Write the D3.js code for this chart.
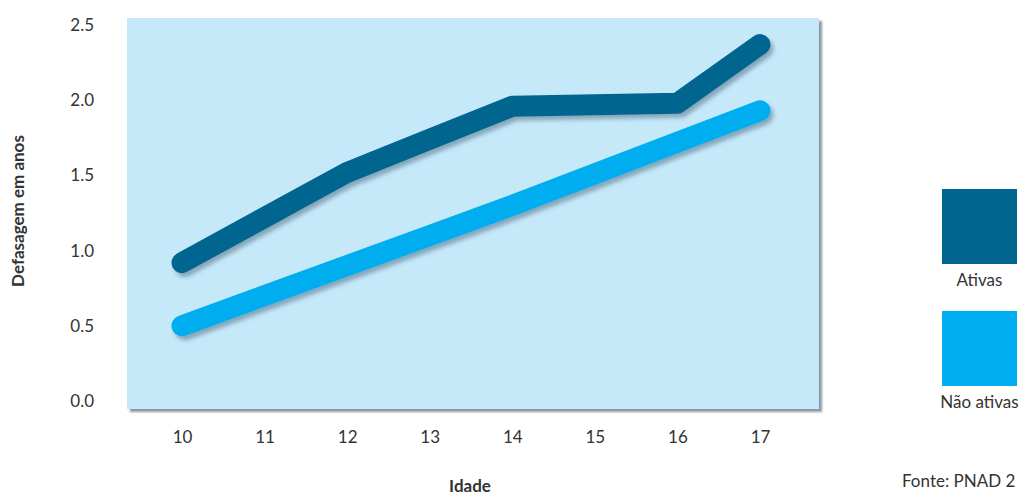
<!DOCTYPE html>
<html>
<head>
<meta charset="utf-8">
<script src="https://cdn.jsdelivr.net/npm/d3@7"></script>
<style>
  html, body { margin: 0; padding: 0; background: #ffffff; }
  svg { display: block; }
  text { font-family: Lato, "Open Sans", sans-serif; fill: #333; }
</style>
</head>
<body>
<svg id="chart" width="1021" height="496"></svg>
<script>
// Idade (anos) e defasagem escolar média em anos
const ages = [10, 11, 12, 13, 14, 15, 16, 17];
const ativas = [0.92, 1.22, 1.52, 1.74, 1.96, 1.97, 1.98, 2.37];
const naoAtivas = [0.5, 0.7, 0.9, 1.1, 1.3, 1.51, 1.72, 1.93];
const yTicks = [0.0, 0.5, 1.0, 1.5, 2.0, 2.5];
const seriesNames = ["Ativas", "Não ativas"];
const seriesColors = ["#00668f", "#00aeef"];

const FONT = 'Lato, "Open Sans", sans-serif';
const svg = d3.select("#chart");

const panel = { left: 127, top: 18, right: 819, bottom: 409 };

const x = d3.scaleLinear().domain([10, 17]).range([182, 760]);
const y = d3.scaleLinear().domain([0, 2.5]).range([401, 25]);

const defs = svg.append("defs");
const shadow = defs.append("filter").attr("id", "lineShadow")
  .attr("x", "-10%").attr("y", "-20%").attr("width", "130%").attr("height", "150%");
shadow.append("feDropShadow")
  .attr("dx", 3).attr("dy", 4).attr("stdDeviation", 2.2)
  .attr("flood-color", "#4f6f86").attr("flood-opacity", 0.55);

const panelShadow = defs.append("filter").attr("id", "panelShadow")
  .attr("x", "-5%").attr("y", "-5%").attr("width", "110%").attr("height", "110%");
panelShadow.append("feDropShadow")
  .attr("dx", 3).attr("dy", 3).attr("stdDeviation", 1.2)
  .attr("flood-color", "#6d7f8a").attr("flood-opacity", 0.8);

// Plot panel
svg.append("rect")
  .attr("x", panel.left).attr("y", panel.top)
  .attr("width", panel.right - panel.left)
  .attr("height", panel.bottom - panel.top)
  .attr("fill", "#c6e9fa")
  .attr("filter", "url(#panelShadow)");

// Y axis labels
const yAxis = d3.axisLeft(y).tickValues(yTicks).tickFormat(d3.format(".1f")).tickSize(0).tickPadding(0);
const gy = svg.append("g").attr("transform", "translate(94,0)").call(yAxis);
gy.select(".domain").remove();
gy.selectAll("text").attr("font-size", 17).attr("fill", "#333").style("font-family", FONT);

// X axis labels
const xAxis = d3.axisBottom(x).tickValues(ages).tickFormat(d3.format("d")).tickSize(0).tickPadding(0);
const gx = svg.append("g").attr("transform", "translate(0,431)").call(xAxis);
gx.select(".domain").remove();
gx.selectAll("text").attr("font-size", 17).attr("fill", "#333").style("font-family", FONT);

// Lines
const line = d3.line().x((d, i) => x(ages[i])).y(d => y(d));
[ativas, naoAtivas].forEach((vals, k) => {
  svg.append("path")
    .datum(vals)
    .attr("d", line)
    .attr("fill", "none")
    .attr("stroke", seriesColors[k])
    .attr("stroke-width", 21)
    .attr("stroke-linecap", "round")
    .attr("stroke-linejoin", "round")
    .attr("filter", "url(#lineShadow)");
});

// Axis titles
svg.append("text")
  .attr("transform", "translate(20,211) rotate(-90)")
  .attr("text-anchor", "middle")
  .attr("dominant-baseline", "middle")
  .attr("font-size", 17)
  .attr("font-weight", 700)
  .text("Defasagem em anos");

svg.append("text")
  .attr("x", 470).attr("y", 488)
  .attr("text-anchor", "middle")
  .attr("dominant-baseline", "middle")
  .attr("font-size", 17)
  .attr("font-weight", 700)
  .text("Idade");

// Legend
const legendY = [189, 311];
seriesNames.forEach((name, k) => {
  svg.append("rect")
    .attr("x", 942).attr("y", legendY[k])
    .attr("width", 75).attr("height", 75)
    .attr("fill", seriesColors[k]);
  svg.append("text")
    .attr("x", 979.5).attr("y", legendY[k] + 93)
    .attr("text-anchor", "middle")
    .attr("dominant-baseline", "middle")
    .attr("font-size", 17)
    .text(name);
});

// Source
svg.append("text")
  .attr("x", 902).attr("y", 483)
  .attr("dominant-baseline", "middle")
  .attr("font-size", 17)
  .text("Fonte: PNAD 2");
</script>
</body>
</html>
